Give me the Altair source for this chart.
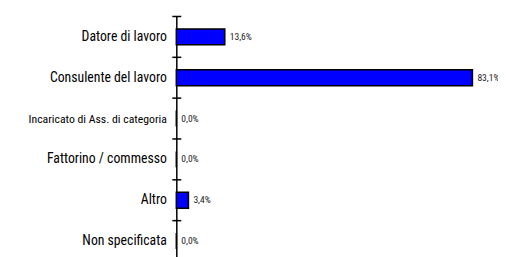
import altair as alt
import pandas as pd

categories = ["Datore di lavoro", "Consulente del lavoro", "Incaricato di Ass. di categoria",
              "Fattorino / commesso", "Altro", "Non specificata"]
values = [13.6, 83.1, 0.0, 0.0, 3.4, 0.0]
labels = ["13,6%", "83,1%", "0,0%", "0,0%", "3,4%", "0,0%"]

df = pd.DataFrame({"cat": categories, "val": values, "lab": labels})

FONT = "Roboto Condensed"

y = alt.Y("cat:N", sort=categories, title=None,
          scale=alt.Scale(paddingInner=0, paddingOuter=0),
          axis=alt.Axis(ticks=False, domain=True, domainColor="black", domainWidth=1.5,
                        labelFont=FONT,
                        labelFontSize=alt.expr("datum.value == 'Incaricato di Ass. di categoria' ? 11.8 : 13.8"),
                        labelColor="black",
                        labelPadding=10, labelLimit=300, grid=False))
x = alt.X("val:Q", scale=alt.Scale(domain=[0, 90]), axis=None, title=None)

bars = alt.Chart(df).mark_bar(color="#0000FF", stroke="black", strokeWidth=1.5,
                              size=16).encode(x=x, y=y)

text = alt.Chart(df).mark_text(align="left", baseline="middle", dx=5, font=FONT,
                               fontSize=9.6, color="#222222").encode(
    x=alt.X("val:Q", axis=None), y=alt.Y("cat:N", sort=categories), text="lab:N")

ticks = alt.Chart(df).mark_rule(color="black", strokeWidth=1.5).encode(
    y=alt.Y("cat:N", sort=categories, bandPosition=0),
    x=alt.value(-4), x2=alt.value(5))

chart = alt.layer(bars, text, ticks).properties(
    width=322, height=246,
    autosize=alt.AutoSizeParams(type="none"),
    padding={"left": 169, "top": 8, "right": 1, "bottom": 0},
).configure(background="white").configure_view(stroke=None).configure_axis(grid=False)

chart.save("out.html", embed_options={"renderer": "svg", "actions": False})
